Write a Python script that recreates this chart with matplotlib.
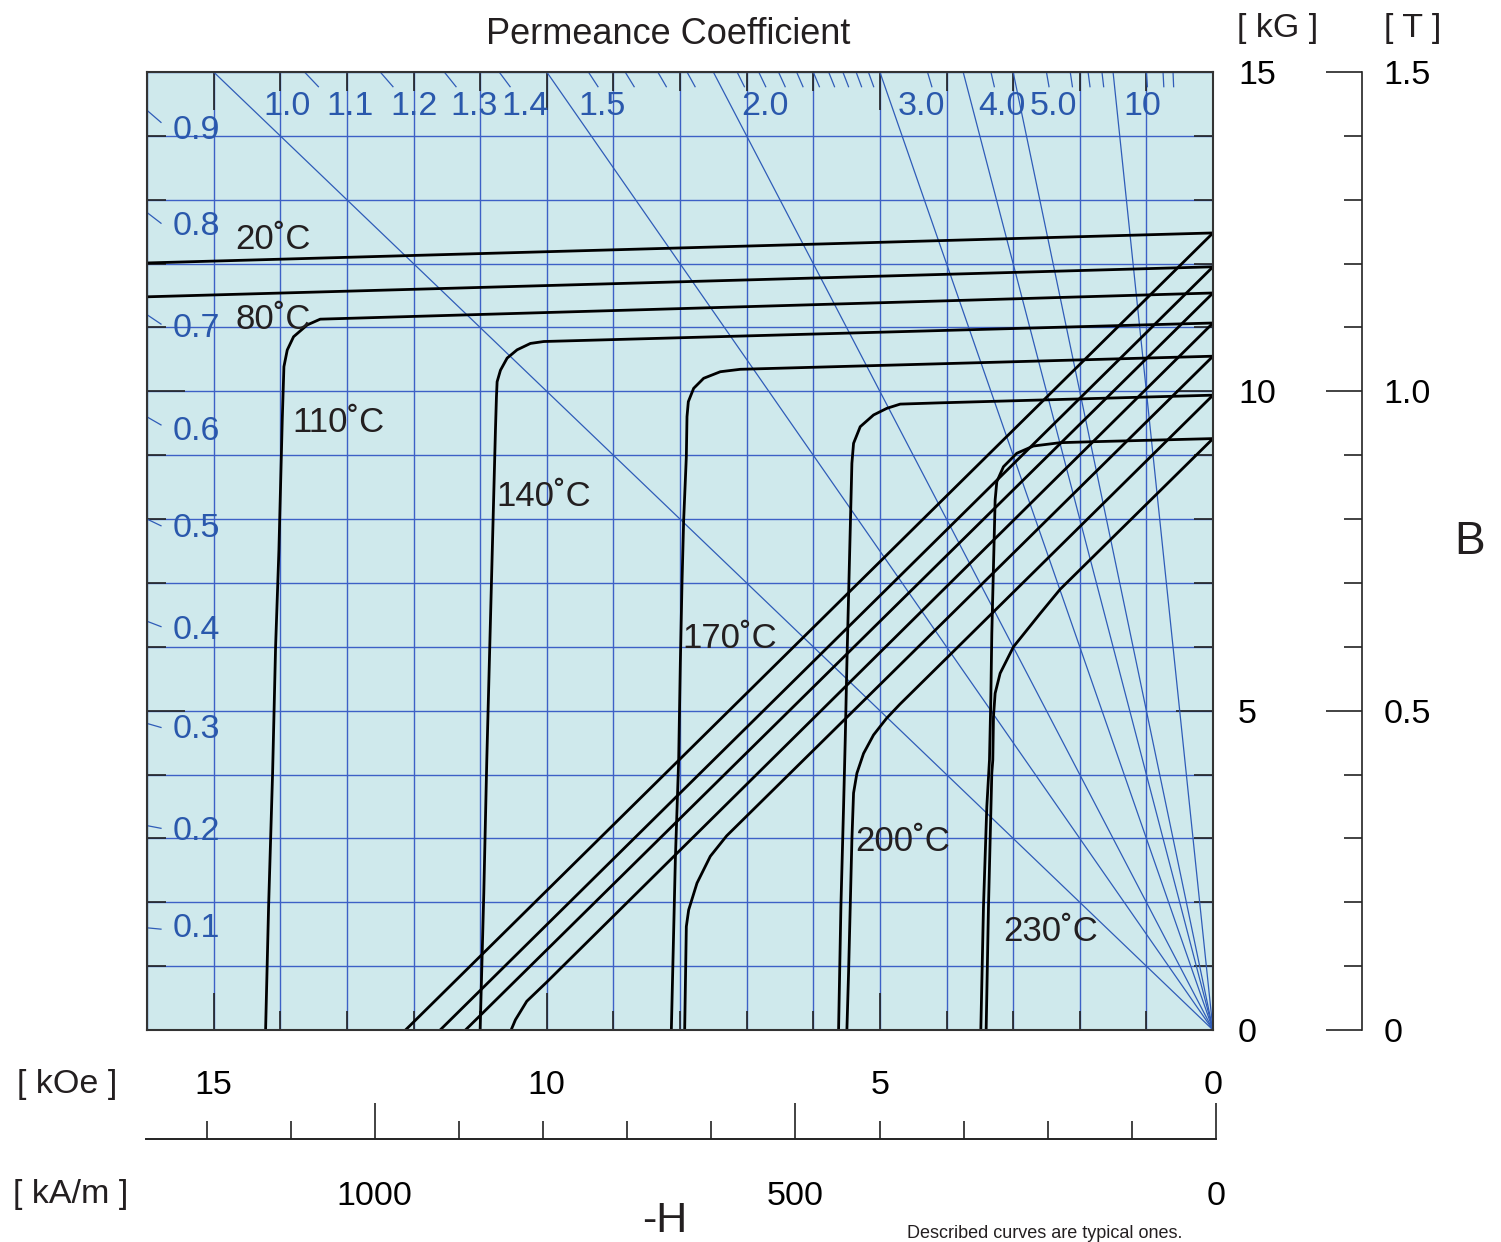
import matplotlib.pyplot as plt
from matplotlib.ticker import MultipleLocator, FixedLocator
from matplotlib.transforms import offset_copy

plt.rcParams['font.family'] = ['Liberation Sans', 'DejaVu Sans']

W, H = 1501, 1242

# permeance coefficient lines (B/H)
pc_long = [1.0, 1.5, 2.0, 3.0, 4.0, 5.0, 10.0]
pc_top_ticks = [1.1, 1.2, 1.3, 1.4, 1.6, 1.7, 1.8, 1.9, 2.1, 2.2, 2.3, 2.4, 2.5,
                2.6, 2.7, 2.8, 2.9, 3.5, 4.5, 6, 7, 8, 9, 15, 20, 25]
pc_left_ticks = [0.1, 0.2, 0.3, 0.4, 0.5, 0.6, 0.7, 0.8, 0.9]
pc_top_labels = ['1.0', '1.1', '1.2', '1.3', '1.4', '1.5', '2.0', '3.0', '4.0', '5.0', '10']
pc_top_label_h = [13.9, 12.96, 11.985, 11.085, 10.32, 9.165, 6.72, 4.38, 3.165, 2.395, 1.065]
pc_left_labels = ['0.1', '0.2', '0.3', '0.4', '0.5', '0.6', '0.7', '0.8', '0.9']
pc_left_label_b = [1.66, 3.18, 4.77, 6.315, 7.91, 9.437, 11.05, 12.64, 14.155]

# demagnetization curves, H in kOe, B / J in kG
j20_h = [0, 16]
j20_b = [12.48, 12.01]
b20_h = [0, 12.12]
b20_b = [12.48, 0]
j80_h = [0, 16]
j80_b = [11.95, 11.48]
b80_h = [0, 11.6]
b80_b = [11.95, 0]
j110_h = [0, 13.40, 13.595, 13.80, 13.895, 13.945, 13.97, 14.02, 14.07, 14.115, 14.175, 14.22]
j110_b = [11.54, 11.13, 11.04, 10.855, 10.647, 10.386, 9.55, 7.515, 6.0, 4.02, 1.93, 0]
b110_h = [0, 11.22]
b110_b = [11.54, 0]
j140_h = [0, 10.045, 10.245, 10.445, 10.595, 10.695, 10.745, 10.755, 10.77, 10.90, 10.945, 11.0]
j140_b = [11.07, 10.78, 10.75, 10.65, 10.52, 10.33, 10.15, 9.915, 9.394, 4.227, 2.14, 0]
b140_h = [0, 10.0, 10.3, 10.47, 10.535]
b140_b = [11.07, 0.75, 0.45, 0.16, 0]
j170_h = [0, 7.095, 7.395, 7.645, 7.795, 7.875, 7.895, 7.905, 7.945, 7.97, 7.995, 8.02, 8.07, 8.13]
j170_b = [10.55, 10.345, 10.307, 10.204, 10.047, 9.838, 9.603, 8.976, 7.985, 7.0, 5.741, 4.227, 2.662, 0]
b170_h = [0, 7.3, 7.545, 7.745, 7.87, 7.905, 7.93]
b170_b = [10.55, 3.04, 2.72, 2.30, 1.88, 1.62, 0]
j200_h = [0, 4.095, 4.695, 4.895, 5.095, 5.295, 5.395, 5.42, 5.445, 5.47, 5.495, 5.52, 5.545, 5.585, 5.62]
j200_b = [9.94, 9.82, 9.80, 9.734, 9.63, 9.446, 9.186, 8.873, 7.829, 6.784, 5.742, 4.54, 3.496, 1.93, 0]
b200_h = [0, 4.7, 4.9, 5.095, 5.245, 5.345, 5.395, 5.42, 5.445, 5.47, 5.495]
b200_b = [9.94, 5.10, 4.88, 4.62, 4.33, 4.02, 3.71, 2.98, 1.93, 0.89, 0]
j230_h = [0, 1.845, 2.295, 2.695, 2.945, 3.145, 3.245, 3.27, 3.295, 3.32, 3.335, 3.355, 3.395, 3.445, 3.485]
j230_b = [9.26, 9.21, 9.196, 9.144, 9.03, 8.82, 8.585, 8.298, 7.254, 6.211, 5.167, 4.227, 3.496, 1.93, 0]
b230_h = [0, 2.295, 2.595, 2.995, 3.195, 3.27, 3.295, 3.305, 3.32, 3.37, 3.405]
b230_b = [9.26, 6.90, 6.52, 6.00, 5.585, 5.272, 4.905, 4.227, 4.02, 1.93, 0]

temp_labels = ['20˚C', '80˚C', '110˚C', '140˚C', '170˚C', '200˚C', '230˚C']
temp_label_h = [14.67, 14.67, 13.815, 10.755, 7.965, 5.37, 3.15]
temp_label_b = [12.45, 11.195, 9.582, 8.424, 6.20, 3.022, 1.613]

koe_ticks = [0, 5, 10, 15]
kam_ticks = [0, 500, 1000]
tesla_ticks = [0, 0.5, 1.0, 1.5]

grid_blue = '#3d60c6'
line_blue = '#2f5cb8'
text_blue = '#2a58ac'
ink = '#231f20'

fig = plt.figure(figsize=(W / 100, H / 100), dpi=100)
ax = fig.add_axes([147 / W, 1 - 1030 / H, 1066 / W, 958 / H])
ax.set_facecolor('#cfe9ec')
ax.set_xlim(16, 0)
ax.set_ylim(0, 15)

ax.xaxis.set_major_locator(MultipleLocator(5))
ax.xaxis.set_minor_locator(MultipleLocator(1))
ax.yaxis.set_major_locator(MultipleLocator(5))
ax.yaxis.set_minor_locator(MultipleLocator(1))
ax.grid(True, which='both', color=grid_blue, lw=1.0)
ax.tick_params(which='both', direction='in', top=True, bottom=True, left=True, right=True,
               color='#222222', width=1.2, labelbottom=False, labelleft=False,
               labelright=True, labelsize=24.5, pad=18)
ax.tick_params(which='major', length=27)
ax.tick_params(which='minor', length=14)
for s in ax.spines.values():
    s.set_color('#333333')
    s.set_linewidth(1.5)

# text in the plot sits a little lower than the bbox centre
tdata = offset_copy(ax.transData, fig=fig, x=0, y=-3, units='points')

# permeance lines
for pc in pc_long:
    ax.plot([0, 15 / pc], [0, 15], color=line_blue, lw=0.9)
for pc in pc_top_ticks:
    ax.plot([15 / pc, 14.77 / pc], [15, 14.77], color=line_blue, lw=0.9)
for pc in pc_left_ticks:
    ax.plot([16, 15.79], [16 * pc, 15.79 * pc], color=line_blue, lw=0.9)
for lab, h in zip(pc_top_labels, pc_top_label_h):
    ax.text(h, 14.52, lab, color=text_blue, fontsize=24.5, ha='center', va='center',
            transform=tdata)
for lab, b in zip(pc_left_labels, pc_left_label_b):
    ax.text(15.62, b, lab, color=text_blue, fontsize=24.5, ha='left', va='center',
            transform=tdata)

# curves
curves = [(j20_h, j20_b), (b20_h, b20_b), (j80_h, j80_b), (b80_h, b80_b),
          (j110_h, j110_b), (b110_h, b110_b), (j140_h, j140_b), (b140_h, b140_b),
          (j170_h, j170_b), (b170_h, b170_b), (j200_h, j200_b), (b200_h, b200_b),
          (j230_h, j230_b), (b230_h, b230_b)]
for hh, bb in curves:
    ax.plot(hh, bb, color='black', lw=2.0, solid_joinstyle='round')
for lab, h, b in zip(temp_labels, temp_label_h, temp_label_b):
    ax.text(h, b, lab, color=ink, fontsize=25, ha='left', va='center', transform=tdata)

# tesla axis
tax = fig.add_axes([1326 / W, 1 - 1030 / H, 36 / W, 958 / H])
tax.set_facecolor('none')
tax.set_ylim(0, 1.5)
tax.set_xticks([])
tax.yaxis.set_major_locator(FixedLocator(tesla_ticks))
tax.yaxis.set_minor_locator(MultipleLocator(0.1))
tax.set_yticklabels(['0', '0.5', '1.0', '1.5'])
for k in ['left', 'top', 'bottom']:
    tax.spines[k].set_visible(False)
tax.spines['right'].set_color('#222222')
tax.spines['right'].set_linewidth(1.2)
tax.tick_params(axis='y', which='both', direction='in', left=False, right=True,
                labelleft=False, labelright=True, color='#222222', width=1.2,
                labelsize=24.5, pad=15.5)
tax.tick_params(axis='y', which='major', length=26)
tax.tick_params(axis='y', which='minor', length=13)

# kA/m axis
hax = fig.add_axes([146 / W, 1 - 1139 / H, 1070 / W, 0.0001])
hax.set_facecolor('none')
hax.set_xlim(1272, 0)
hax.set_yticks([])
hax.xaxis.set_major_locator(FixedLocator(kam_ticks))
hax.xaxis.set_minor_locator(MultipleLocator(100))
for k in ['left', 'top', 'right']:
    hax.spines[k].set_visible(False)
hax.spines['bottom'].set_color('#222222')
hax.spines['bottom'].set_linewidth(1.4)
hax.tick_params(axis='x', which='both', direction='in', color='#222222', width=1.2,
                labelsize=24.5, pad=30.5)
hax.tick_params(axis='x', which='major', length=26)
hax.tick_params(axis='x', which='minor', length=13.3)

# kOe labels
kax = fig.add_axes([147 / W, 1 - 1139 / H, 1066 / W, 0.0001])
kax.set_facecolor('none')
kax.set_xlim(16, 0)
kax.set_yticks([])
kax.set_xticks(koe_ticks)
for s in kax.spines.values():
    s.set_visible(False)
kax.tick_params(axis='x', length=0, labelbottom=False, labeltop=True, top=False,
                bottom=False, labelsize=24.5, pad=27)

fig.text(668 / W, 1 - 34 / H, 'Permeance Coefficient', fontsize=26, ha='center', va='center', color=ink)
fig.text(1278 / W, 1 - 29 / H, '[ kG ]', fontsize=24.5, ha='center', va='center', color=ink)
fig.text(1413 / W, 1 - 29 / H, '[ T ]', fontsize=24.5, ha='center', va='center', color=ink)
fig.text(1470 / W, 1 - 542 / H, 'B', fontsize=33, ha='center', va='center', color=ink)
fig.text(67 / W, 1 - 1085 / H, '[ kOe ]', fontsize=24.5, ha='center', va='center', color=ink)
fig.text(71 / W, 1 - 1195 / H, '[ kA/m ]', fontsize=24.5, ha='center', va='center', color=ink)
fig.text(665 / W, 1 / H, '-H', fontsize=31, ha='center', va='bottom', color=ink)
fig.text(1045 / W, 4 / H, 'Described curves are typical ones.', fontsize=13, ha='center',
         va='baseline', color=ink)

fig.savefig('out.png', dpi=100)
